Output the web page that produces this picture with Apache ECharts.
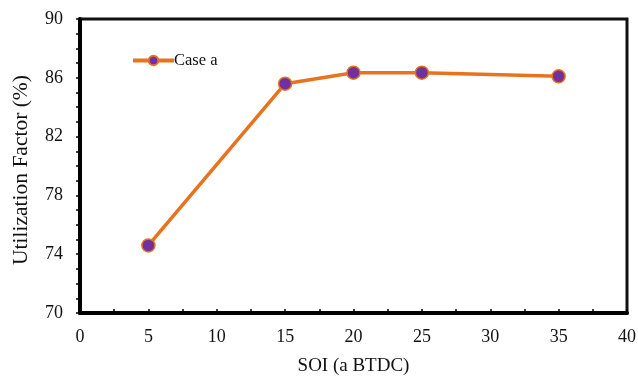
<!DOCTYPE html>
<html>
<head>
<meta charset="utf-8">
<script src="https://cdn.jsdelivr.net/npm/echarts@6/dist/echarts.min.js"></script>
<style>
  html, body { margin: 0; padding: 0; background: #fff; }
  #chart { width: 638px; height: 376px; }
</style>
</head>
<body>
<div id="chart"></div>
<script>
// Spark timing (degrees before top dead centre) and the resulting utilization factor
const soi = [5, 15, 20, 25, 35];
const utilization = [74.6, 85.6, 86.35, 86.35, 86.1];
const seriesName = 'Case a';
const xTitle = 'SOI (a BTDC)';
const yTitle = 'Utilization Factor (%)';

const serif = '"Liberation Serif", "Times New Roman", serif';
const lineColor = '#E8731E';
const dotColor = '#7030A0';

const chart = echarts.init(document.getElementById('chart'));
chart.setOption({
  animation: false,
  backgroundColor: '#fff',
  grid: {
    left: 80, right: 11, top: 19, bottom: 63,
    outerBoundsMode: 'none',
    containLabel: false,
    show: true, borderColor: '#111', borderWidth: 3, backgroundColor: 'transparent'
  },
  legend: {
    left: 126, top: 47,
    itemWidth: 41, itemHeight: 12,
    itemGap: 2,
    lineStyle: { width: 4 },
    textStyle: { fontFamily: serif, fontSize: 16.5, color: '#111', padding: [0, 0, 0, -5] },
    data: [seriesName]
  },
  xAxis: {
    type: 'value', min: 0, max: 40, interval: 2.5,
    name: xTitle, nameLocation: 'middle', nameGap: 44,
    nameTextStyle: { fontFamily: serif, fontSize: 19, color: '#111' },
    axisLine: { lineStyle: { color: '#000', width: 4 } },
    axisTick: { inside: true, length: 4, lineStyle: { color: '#000', width: 1.5 } },
    axisLabel: {
      fontFamily: serif, fontSize: 18, color: '#111', margin: 15,
      formatter: v => (v % 5 === 0 ? String(v) : '')
    },
    splitLine: { show: false }
  },
  yAxis: {
    type: 'value', min: 70, max: 90, interval: 1,
    name: yTitle, nameLocation: 'middle', nameGap: 48,
    nameTextStyle: { fontFamily: serif, fontSize: 21.5, color: '#111', padding: [0, 8, 0, 0] },
    axisLine: { show: true, lineStyle: { color: '#000', width: 4 } },
    axisTick: { show: true, inside: false, length: 4, lineStyle: { color: '#000', width: 1.5 } },
    axisLabel: {
      fontFamily: serif, fontSize: 18, color: '#111', margin: 17,
      formatter: v => ((v - 70) % 4 === 0 ? String(v) : '')
    },
    splitLine: { show: false }
  },
  series: [{
    name: seriesName,
    type: 'line',
    data: soi.map((x, i) => [x, utilization[i]]),
    symbol: 'circle',
    symbolSize: 13,
    lineStyle: { color: lineColor, width: 3.5 },
    itemStyle: { color: dotColor, borderColor: lineColor, borderWidth: 1.5 }
  }]
});
</script>
</body>
</html>
